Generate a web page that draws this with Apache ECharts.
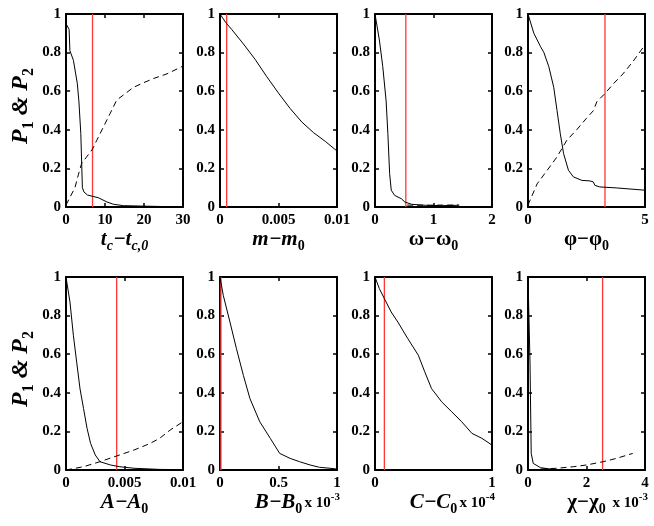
<!DOCTYPE html>
<html>
<head>
<meta charset="utf-8">
<script src="https://cdn.jsdelivr.net/npm/echarts@6/dist/echarts.min.js"></script>
<style>
html,body{margin:0;padding:0;background:#fff}
#main{width:654px;height:526px}
</style>
</head>
<body>
<div id="main"></div>
<script>
// tc - tc,0
var tcX = [0, 0.2, 0.8, 1.0, 1.9, 2.9, 3.3, 3.8, 4.2, 4.6, 5.5, 6.9, 8.3, 10.5, 12.2, 14.7, 19, 26, 30]
var tcY = [0.95, 0.94, 0.92, 0.81, 0.76, 0.64, 0.55, 0.38, 0.10, 0.078, 0.062, 0.055, 0.048, 0.026, 0.014, 0.007, 0.005, 0.002, 0.001]
var tcDashX = [0, 1.0, 2.3, 3.2, 4.0, 5.3, 6.8, 7.9, 9.6, 11.3, 13.0, 14.7, 17.3, 19.9, 22.5, 25.9, 30]
var tcDashY = [0.01, 0.05, 0.10, 0.17, 0.225, 0.26, 0.30, 0.346, 0.415, 0.484, 0.554, 0.58, 0.62, 0.644, 0.666, 0.69, 0.73]
// m - m0
var mX = [0, 0.0005, 0.001, 0.002, 0.003, 0.004, 0.005, 0.006, 0.007, 0.008, 0.009, 0.01]
var mY = [1, 0.955, 0.92, 0.845, 0.765, 0.675, 0.59, 0.51, 0.44, 0.385, 0.34, 0.29]
// omega - omega0
var wX = [0, 0.017, 0.075, 0.133, 0.19, 0.22, 0.25, 0.278, 0.336, 0.45, 0.51, 0.626, 0.858, 1.15, 1.44]
var wY = [1, 0.995, 0.865, 0.727, 0.55, 0.38, 0.173, 0.087, 0.06, 0.043, 0.026, 0.014, 0.009, 0.007, 0.009]
var wDashX = [0.55, 0.75, 0.95, 1.15, 1.3, 1.43]
var wDashY = [0.01, 0.009, 0.009, 0.01, 0.01, 0.011]
// phi - phi0
var phiX = [0, 0.04, 0.25, 0.54, 0.68, 0.89, 1.1, 1.24, 1.38, 1.52, 1.73, 1.94, 2.3, 2.65, 2.79, 2.86, 3.07, 3.77, 5]
var phiY = [1, 0.995, 0.9, 0.83, 0.80, 0.727, 0.62, 0.5, 0.38, 0.277, 0.19, 0.156, 0.138, 0.135, 0.13, 0.112, 0.104, 0.099, 0.087]
var phiDashX = [0, 0.39, 0.82, 1.24, 1.66, 2.08, 2.5, 2.8, 2.94, 3.29, 3.66, 4.06, 4.48, 5]
var phiDashY = [0.01, 0.12, 0.19, 0.26, 0.346, 0.4, 0.46, 0.5, 0.545, 0.588, 0.64, 0.69, 0.753, 0.84]
// A - A0
var aX = [0, 0.00006, 0.00034, 0.00063, 0.00091, 0.0012, 0.0015, 0.0018, 0.0021, 0.0025, 0.0029, 0.0038, 0.0046, 0.0058, 0.008, 0.01]
var aY = [1, 0.995, 0.87, 0.698, 0.56, 0.42, 0.318, 0.216, 0.138, 0.078, 0.043, 0.026, 0.017, 0.009, 0.003, 0.002]
var aDashX = [0, 0.0015, 0.0029, 0.0043, 0.0058, 0.0072, 0.008, 0.0089, 0.01]
var aDashY = [0, 0.017, 0.043, 0.072, 0.103, 0.138, 0.164, 0.207, 0.25]
// B - B0 (x 10^-3)
var bX = [0, 0.006, 0.028, 0.085, 0.14, 0.2, 0.256, 0.34, 0.43, 0.51, 0.6, 0.68, 0.77, 0.85, 0.94, 1]
var bY = [1, 0.99, 0.905, 0.767, 0.63, 0.49, 0.37, 0.25, 0.164, 0.086, 0.06, 0.043, 0.026, 0.014, 0.009, 0.005]
// C - C0 (x 10^-4)
var cX = [0, 0.037, 0.08, 0.138, 0.195, 0.28, 0.37, 0.425, 0.483, 0.57, 0.655, 0.741, 0.828, 0.914, 1]
var cY = [1, 0.94, 0.888, 0.819, 0.767, 0.681, 0.595, 0.509, 0.422, 0.353, 0.302, 0.25, 0.19, 0.164, 0.129]
// chi - chi0 (x 10^-3)
var chiX = [0, 0.034, 0.068, 0.11, 0.18, 0.43, 0.77, 1.0]
var chiY = [1, 0.99, 0.56, 0.086, 0.034, 0.012, 0.005, 0.002]
var chiDashX = [0.43, 1.0, 1.55, 2.0, 2.57, 3.02, 3.58]
var chiDashY = [0.005, 0.009, 0.017, 0.026, 0.043, 0.06, 0.086]

var redX = [6.8, 0.00057, 0.527, 3.29, 0.00433, 0.008, 0.08, 2.55]
var xMax = [30, 0.01, 2, 5, 0.01, 1, 1, 4]
var xStep = [10, 0.005, 1, 5, 0.005, 0.5, 1, 2]
var expLabels = [null, null, null, null, null, '-3', '-4', '-3']

var solids = [[tcX, tcY], [mX, mY], [wX, wY], [phiX, phiY], [aX, aY], [bX, bY], [cX, cY], [chiX, chiY]]
var dashes = [[tcDashX, tcDashY], null, [wDashX, wDashY], [phiDashX, phiDashY], [aDashX, aDashY], null, null, [chiDashX, chiDashY]]

var serif = '"Liberation Serif", "DejaVu Serif", serif'
var names = [
  '{i|t}{si|c}{i|−t}{si|c,0}',
  '{i|m−m}{s|0}',
  '{g|ω−ω}{s|0}',
  '{g|φ−φ}{s|0}',
  '{i|A−A}{s|0}',
  '{i|B−B}{s|0}',
  '{i|C−C}{s|0}',
  '{g|χ−χ}{s|0}'
]
var nameRich = {
  i: {fontFamily: serif, fontStyle: 'italic', fontWeight: 'bold', fontSize: 21, color: '#000'},
  g: {fontFamily: serif, fontWeight: 'bold', fontSize: 21, color: '#000'},
  s: {fontFamily: serif, fontWeight: 'bold', fontSize: 14, color: '#000', padding: [14, 0, 0, 0]},
  si: {fontFamily: serif, fontStyle: 'italic', fontWeight: 'bold', fontSize: 14, color: '#000', padding: [14, 0, 0, 0]}
}

function pairs(xs, ys) {
  var out = []
  for (var k = 0; k < xs.length; k++) out.push([xs[k], ys[k]])
  return out
}

var lefts = [66, 220, 375, 528]
var tops = [14, 277]
var W = 117, H = 193
var nameGaps = [15, 11]

var grid = [], xAxis = [], yAxis = [], series = [], graphic = []
for (var p = 0; p < 8; p++) {
  var row = Math.floor(p / 4)
  var gl = lefts[p % 4], gt = tops[row]
  grid.push({left: gl, top: gt, width: W, height: H, containLabel: false})
  var frame = {color: '#000', width: 2}
  var tick = {inside: true, length: 4, lineStyle: {color: '#000', width: 1.5}}
  xAxis.push({
    gridIndex: p, type: 'value', min: 0, max: xMax[p], interval: xStep[p], position: 'bottom',
    axisLine: {show: true, onZero: false, lineStyle: frame}, axisTick: tick, splitLine: {show: false},
    axisLabel: {fontFamily: serif, fontWeight: 'bold', fontSize: 15, color: '#000', margin: 6, showMinLabel: true, showMaxLabel: true},
    name: names[p], nameLocation: 'middle', nameGap: nameGaps[row],
    nameTextStyle: {rich: nameRich}
  })
  xAxis.push({
    gridIndex: p, type: 'value', min: 0, max: xMax[p], interval: xStep[p], position: 'top',
    axisLine: {show: true, onZero: false, lineStyle: frame}, axisTick: tick, splitLine: {show: false},
    axisLabel: {show: false}
  })
  yAxis.push({
    gridIndex: p, type: 'value', min: 0, max: 1, interval: 0.2, position: 'left',
    axisLine: {show: true, onZero: false, lineStyle: frame}, axisTick: tick, splitLine: {show: false},
    axisLabel: {fontFamily: serif, fontWeight: 'bold', fontSize: 15, color: '#000', margin: 5}
  })
  yAxis.push({
    gridIndex: p, type: 'value', min: 0, max: 1, interval: 0.2, position: 'right',
    axisLine: {show: true, onZero: false, lineStyle: frame}, axisTick: tick, splitLine: {show: false},
    axisLabel: {show: false}
  })
  series.push({
    type: 'line', xAxisIndex: 2 * p, yAxisIndex: 2 * p, showSymbol: false, symbol: 'none',
    data: pairs(solids[p][0], solids[p][1]), lineStyle: {color: '#000', width: 1}, z: 3
  })
  if (dashes[p]) {
    series.push({
      type: 'line', xAxisIndex: 2 * p, yAxisIndex: 2 * p, showSymbol: false, symbol: 'none',
      data: pairs(dashes[p][0], dashes[p][1]), lineStyle: {color: '#000', width: 1, type: [6, 4]}, z: 3
    })
  }
  series.push({
    type: 'line', xAxisIndex: 2 * p, yAxisIndex: 2 * p, showSymbol: false, symbol: 'none',
    data: [[redX[p], 0], [redX[p], 1]], lineStyle: {color: '#ff3636', width: 1.3}, z: 2
  })
  if (expLabels[p]) {
    graphic.push({
      type: 'text', x: gl + W + 3, y: gt + H + 33,
      style: {
        text: '{a|x 10}{b|' + expLabels[p] + '}', align: 'right', verticalAlign: 'middle',
        rich: {
          a: {fontFamily: serif, fontWeight: 'bold', fontSize: 15, fill: '#000'},
          b: {fontFamily: serif, fontWeight: 'bold', fontSize: 11, fill: '#000', padding: [0, 0, 11, 0]}
        }
      }
    })
  }
}

for (var r = 0; r < 2; r++) {
  graphic.push({
    type: 'text', x: 21, y: tops[r] + 92, rotation: Math.PI / 2,
    style: {
      text: '{i|P}{s|1}{i| & P}{s|2}', align: 'center', verticalAlign: 'middle',
      rich: {
        i: {fontFamily: serif, fontStyle: 'italic', fontWeight: 'bold', fontSize: 24, fill: '#000'},
        s: {fontFamily: serif, fontWeight: 'bold', fontSize: 16, fill: '#000', padding: [15, 0, 0, 0]}
      }
    }
  })
}

var myChart = echarts.init(document.getElementById('main'))
myChart.setOption({
  animation: false,
  backgroundColor: '#fff',
  grid: grid,
  xAxis: xAxis,
  yAxis: yAxis,
  series: series,
  graphic: graphic
})
</script>
</body>
</html>
